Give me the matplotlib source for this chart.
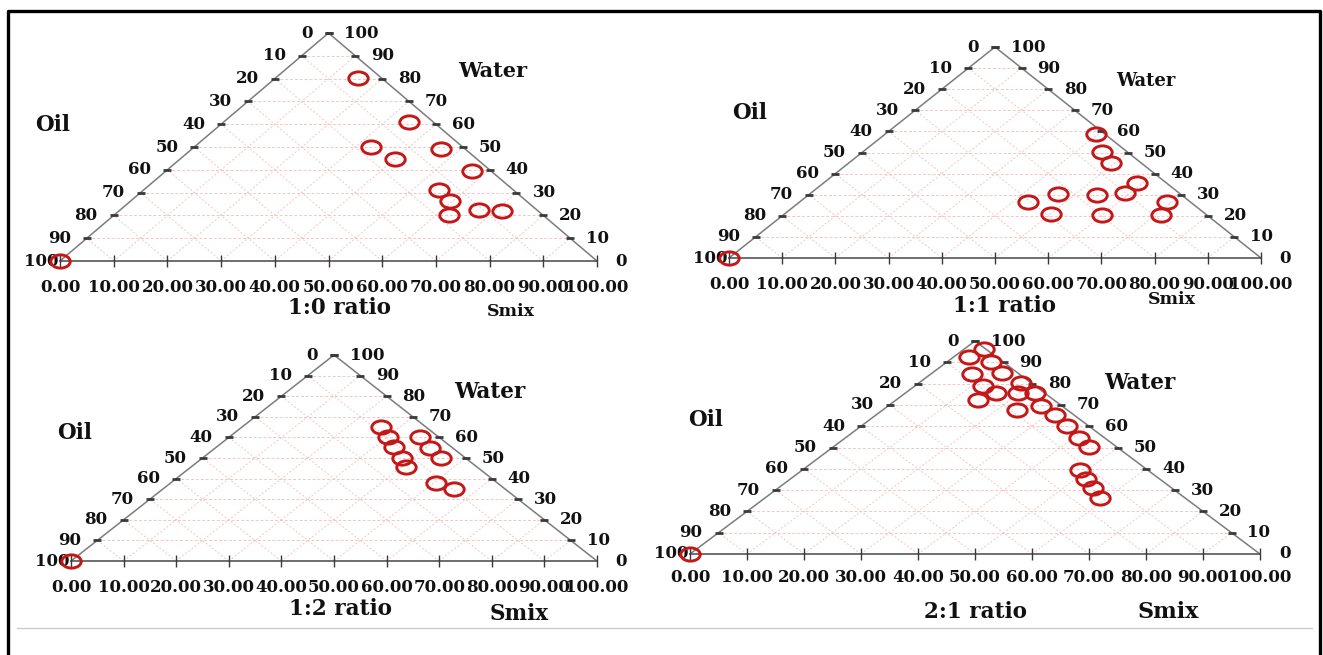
import matplotlib
matplotlib.use('Agg')
import matplotlib.pyplot as plt
from matplotlib.path import Path
from matplotlib.lines import Line2D

# ---------------- data (Smix %, Water %; Oil = 100 - Smix - Water) ----------------
ratio_labels = ['1:0 ratio', '1:1 ratio', '1:2 ratio', '2:1 ratio']
corner_labels = ['Oil', 'Water', 'Smix']
tick_values = list(range(0, 101, 10))

smix_1_0 = [0, 15.4, 34.5, 33.0, 40.0, 46.5, 57.0, 55.0, 59.5, 62.3, 66.9, 71.3]
water_1_0 = [0, 80.2, 60.9, 50.0, 44.6, 49.0, 39.5, 31.0, 26.1, 20.1, 22.2, 22.0]

smix_1_1 = [0, 39.5, 45.0, 49.2, 58.9, 59.1, 54.3, 46.6, 43.0, 50.1, 60.1, 69.1, 71.1]
water_1_1 = [0, 58.9, 50.2, 45.2, 35.5, 30.8, 29.7, 30.5, 26.5, 20.7, 20.2, 26.5, 20.2]

smix_1_2 = [0, 26.3, 30.3, 33.9, 38.0, 41.0, 36.1, 40.9, 45.4, 50.3, 55.4]
water_1_2 = [0, 65.2, 60.0, 55.2, 49.8, 45.5, 60.4, 54.7, 49.8, 38.0, 34.8]

smix_2_1 = [0, 3.4, 2.7, 7.7, 12.2, 7.3, 11.9, 15.9, 14.3, 17.8, 19.8, 22.9,
            23.7, 26.8, 31.5, 36.1, 40.9, 44.9, 48.7, 51.9, 55.2, 58.9]
water_2_1 = [0, 96.2, 92.6, 90.3, 85.1, 84.3, 79.0, 75.4, 72.5, 80.4, 75.4, 75.4,
             67.5, 69.4, 65.1, 60.0, 54.6, 50.2, 39.6, 35.3, 31.1, 26.2]

# ---------------- layout ----------------
W, H, DPI = 1323, 655, 100
plt.rcParams['font.family'] = ['DejaVu Serif']
fig = plt.figure(figsize=(W / DPI, H / DPI), dpi=DPI)
fig.patch.set_facecolor('white')

RED = '#c41818'
GRID = '#f2c6c6'
EDGE = '#7c7c7c'
TICKC = '#3a3a3a'

# elliptical open marker (the source image is stretched horizontally)
circ = Path.unit_circle()
ell = Path(circ.vertices * [1.0, 0.68], circ.codes)

panels = [
    dict(box=(60, 597, 261, 33), smix=smix_1_0, water=water_1_0, title=ratio_labels[0],
         oil=(53, 125, 15.5), wat=(493, 71, 15), ttl=(340, 308, 15.5), smx=(511, 312, 12.5), boff=19),
    dict(box=(729, 1261, 258, 47), smix=smix_1_1, water=water_1_1, title=ratio_labels[1],
         oil=(750, 113, 15.5), wat=(1146, 81, 13), ttl=(1004, 306, 15.5), smx=(1172, 299, 12.5), boff=19),
    dict(box=(71, 597, 561, 355), smix=smix_1_2, water=water_1_2, title=ratio_labels[2],
         oil=(75, 433, 15.5), wat=(490, 392, 15.5), ttl=(341, 609, 15.5), smx=(519, 614, 15.5), boff=19),
    dict(box=(690, 1260, 554, 341), smix=smix_2_1, water=water_2_1, title=ratio_labels[3],
         oil=(706, 420, 15.5), wat=(1140, 383, 15.5), ttl=(975, 612, 15.5), smx=(1168, 612, 16), boff=17),
]

def ftext(px, py, s, size):
    fig.text(px / W, 1 - py / H, s, ha='center', va='center', fontsize=size,
             fontweight='bold', color='#111111')

for p in panels:
    x0, x1, yb, ya = p['box']
    ax = fig.add_axes([x0 / W, 1 - yb / H, (x1 - x0) / W, (yb - ya) / H])
    ax.set_xlim(0, 100)
    ax.set_ylim(0, 100)
    ax.axis('off')

    # grid lines of the three families
    for v in tick_values[1:-1]:
        ax.plot([v / 2, 100 - v / 2], [v, v], color=GRID, lw=0.7, ls=(0, (3, 2)), zorder=1)
        ax.plot([v, v + (100 - v) / 2], [0, 100 - v], color=GRID, lw=0.7, ls=(0, (2, 2)), zorder=1)
        ax.plot([100 - v, (100 - v) / 2], [0, 100 - v], color=GRID, lw=0.7, ls=(0, (2, 2)), zorder=1)

    # triangle
    ax.plot([0, 50, 100], [0, 100, 0], color=EDGE, lw=1.1, zorder=2, clip_on=False)
    ax.plot([0, 100], [0, 0], color='#555555', lw=1.2, zorder=2, clip_on=False)

    # ticks
    wt = tick_values[1:]
    ax.plot([w / 2 for w in wt], wt, ls='none', marker='_', ms=6, mew=2.0,
            color=TICKC, zorder=3, clip_on=False)
    ax.plot([100 - w / 2 for w in wt], wt, ls='none', marker='_', ms=6, mew=2.0,
            color=TICKC, zorder=3, clip_on=False)
    ax.plot(tick_values, [0] * len(tick_values), ls='none', marker='|', ms=8, mew=1.0,
            color=TICKC, zorder=3, clip_on=False)

    # tick labels
    for w in tick_values:
        off_l = -11.5 if w > 0 else -1
        ax.annotate(str(100 - w), xy=(w / 2, w), xytext=(off_l, 0), textcoords='offset points',
                    ha='right', va='center', fontsize=12, fontweight='bold', color='#111111')
        off_r = 11.5 if w > 0 else 13.5
        ax.annotate(str(w), xy=(100 - w / 2, w), xytext=(off_r, 0), textcoords='offset points',
                    ha='left', va='center', fontsize=12, fontweight='bold', color='#111111')
    for s in tick_values:
        ax.annotate(f'{s:.2f}', xy=(s, 0), xytext=(0, -p['boff']), textcoords='offset points',
                    ha='center', va='center', fontsize=12, fontweight='bold', color='#111111')

    # data points
    xs = [s + w / 2 for s, w in zip(p['smix'], p['water'])]
    ys = p['water']
    ax.plot(xs, ys, ls='none', marker=ell, ms=14, mfc='none', mec=RED, mew=2.1,
            zorder=5, clip_on=False)

    # axis / panel labels
    ftext(p['oil'][0], p['oil'][1], corner_labels[0], p['oil'][2])
    ftext(p['wat'][0], p['wat'][1], corner_labels[1], p['wat'][2])
    ftext(p['smx'][0], p['smx'][1], corner_labels[2], p['smx'][2])
    ftext(p['ttl'][0], p['ttl'][1], p['title'], p['ttl'][2])

# outer frame (open at the bottom) and thin separator line
fig.add_artist(Line2D([8 / W, 8 / W, 1320 / W, 1320 / W], [0, 1 - 11 / H, 1 - 11 / H, 0],
                      transform=fig.transFigure, color='black', lw=2.4))
fig.add_artist(Line2D([17 / W, 1312 / W], [1 - 628 / H, 1 - 628 / H],
                      transform=fig.transFigure, color='#c8c8c8', lw=0.9))

fig.savefig('out.png', dpi=DPI, facecolor='white')
